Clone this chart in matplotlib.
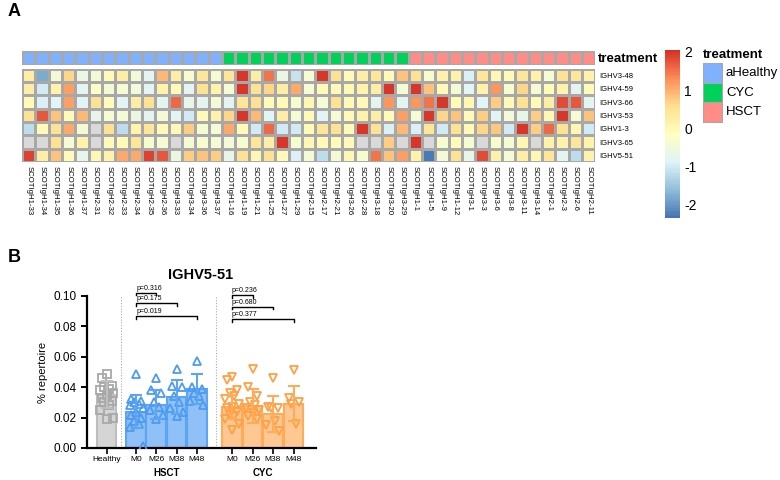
import numpy as np
import matplotlib
matplotlib.use("Agg")
import matplotlib.pyplot as plt
from matplotlib.colors import LinearSegmentedColormap, ListedColormap
from matplotlib.patches import Rectangle

plt.rcParams['font.family'] = ['Liberation Sans', 'DejaVu Sans']
plt.rcParams['axes.unicode_minus'] = False

# ---- panel A data ----
samples_healthy = ["SCOTIgH1-33", "SCOTIgH1-34", "SCOTIgH1-35", "SCOTIgH1-36", "SCOTIgH1-37",
                   "SCOTIgH2-31", "SCOTIgH2-32", "SCOTIgH2-33", "SCOTIgH2-34", "SCOTIgH2-35",
                   "SCOTIgH2-36", "SCOTIgH3-33", "SCOTIgH3-34", "SCOTIgH3-36", "SCOTIgH3-37"]
samples_cyc = ["SCOTIgH1-16", "SCOTIgH1-19", "SCOTIgH1-21", "SCOTIgH1-25", "SCOTIgH1-27",
               "SCOTIgH1-29", "SCOTIgH2-15", "SCOTIgH2-17", "SCOTIgH2-21", "SCOTIgH3-26",
               "SCOTIgH2-28", "SCOTIgH3-18", "SCOTIgH3-20", "SCOTIgH3-29"]
samples_hsct = ["SCOTIgH1-1", "SCOTIgH1-5", "SCOTIgH1-9", "SCOTIgH1-12", "SCOTIgH3-1",
                "SCOTIgH3-3", "SCOTIgH3-6", "SCOTIgH3-8", "SCOTIgH3-11", "SCOTIgH3-14",
                "SCOTIgH2-1", "SCOTIgH2-3", "SCOTIgH2-6", "SCOTIgH2-11"]
genes = ["IGHV3-48", "IGHV4-59", "IGHV3-66", "IGHV3-53", "IGHV1-3", "IGHV3-65", "IGHV5-51"]
nan = np.nan

z_ighv3_48 = [0.25, -1.8, -0.45, 0.65, -0.6, -0.45, -0.05, 0.25, -0.5, -0.8, 0.95,
              0.25, -0.35, 0.45, -0.35, 0.45, 2.0, 0.25, 1.5, -0.6, -1.1,
              -0.4, 2.0, 0.55, -0.05, 0.25, 0.45, -0.05, 0.85, 0.55, -0.35, 0.2,
              0.15, -0.9, 0.45, 0.0, -0.05, 0.45, 0.15, -0.4, 0.55, 0.45, 0.15]
z_ighv4_59 = [0.25, -1.0, 0.15, 1.15, -0.8, -0.2, -0.45, -0.4, -0.5, -0.8, 0.15,
              -0.05, -0.8, 0.55, 0.15, -0.4, 2.0, 0.55, 0.65, 0.25, 1.05,
              -0.4, -0.05, -0.05, 0.0, 0.15, 0.25, 2.0, -0.4, 2.0, 0.85, -0.05,
              -0.45, -0.85, 0.15, 1.25, -0.35, 0.65, -0.4, -0.05, 0.15, -0.8, -0.05]
z_ighv3_66 = [-0.05, -0.9, -0.85, 1.15, -0.85, 0.55, -0.1, -0.85, 0.25, 0.55, -0.8,
              1.6, -0.7, -0.8, -0.45, -0.8, 0.45, 0.55, -0.05, -0.05, -0.35,
              0.0, -0.4, 0.55, -0.05, -0.05, -0.8, 1.25, -0.8, 1.25, 1.5, 2.0,
              -0.05, 0.05, -0.85, 0.75, -0.05, 0.55, -0.05, 0.25, 1.8, 1.7, -0.8]
z_ighv3_53 = [0.55, 1.7, 0.85, -0.05, 0.95, -0.7, -0.4, -0.45, -0.6, -0.8, -0.45,
              -0.8, -1.0, -0.05, 0.15, 0.65, 2.0, 0.95, -0.85, 0.25, -0.4,
              -0.05, -0.85, -0.4, -0.05, 0.15, 0.25, -0.05, 1.15, -0.4, 2.0, 0.65,
              0.85, -0.05, 0.75, -0.8, -0.45, -0.7, 0.75, 0.05, 2.0, -0.4, 0.85]
z_ighv1_3 = [-1.2, -0.05, 0.55, 1.05, -0.45, nan, 0.55, -1.2, 0.15, 0.45, -0.05,
             0.0, 0.75, -0.35, -0.4, 1.05, -0.05, -1.0, 1.6, -1.0, -1.0,
             -0.05, 0.45, 0.55, -0.05, 2.0, 0.55, -0.9, 0.95, -0.9, 0.45, -1.0,
             0.55, -0.05, 0.65, 0.8, -1.0, 2.0, 0.75, 1.6, 0.55, 0.05, -1.0]
z_ighv3_65 = [nan, nan, 0.55, -0.4, 0.15, nan, -0.05, -0.05, 0.45, -0.35, -0.4,
              nan, -0.45, -0.35, -0.4, -0.45, -0.35, 0.45, 0.25, 2.0, -0.35,
              0.0, -0.05, -0.05, -0.05, nan, nan, 0.75, nan, 2.0, nan, -0.35,
              -0.05, -0.4, nan, -0.35, -0.4, 0.05, nan, 0.15, 0.15, 0.45, 0.15]
z_ighv5_51 = [1.9, 0.25, 0.85, -0.05, -0.7, 0.0, 0.15, 1.05, 1.05, 1.9, 1.7,
              -0.6, 0.75, 0.85, 0.75, -0.7, 0.55, 0.0, 0.55, -0.05, -0.9,
              -0.45, -1.2, -0.45, 0.05, -0.35, 1.5, 0.85, 1.15, 0.15, -2.3, -0.45,
              0.55, -0.7, 1.8, 0.2, -0.4, 0.25, 0.05, 0.45, -0.8, -1.2, 0.15]

treatments = ["aHealthy", "CYC", "HSCT"]
treatment_colors = ["#7FB1FF", "#00D15A", "#FF8C86"]

# ---- panel B data ----
groups = ["Healthy", "M0", "M26", "M38", "M48", "M0", "M26", "M38", "M48"]
bar_means = [0.035, 0.024, 0.0285, 0.0335, 0.039, 0.027, 0.0275, 0.0225, 0.029]
bar_sds = [0.009, 0.011, 0.0095, 0.011, 0.010, 0.008, 0.011, 0.012, 0.0115]
points = [
    [0.049, 0.046, 0.041, 0.040, 0.039, 0.038, 0.036, 0.035, 0.033, 0.031, 0.030, 0.028, 0.025, 0.020, 0.019],
    [0.049, 0.032, 0.031, 0.030, 0.029, 0.028, 0.026, 0.024, 0.022, 0.020, 0.018, 0.016, 0.014, 0.001],
    [0.046, 0.038, 0.036, 0.030, 0.027, 0.025, 0.022, 0.019],
    [0.052, 0.041, 0.040, 0.034, 0.030, 0.026, 0.024, 0.021],
    [0.057, 0.040, 0.039, 0.036, 0.034, 0.031, 0.028],
    [0.047, 0.045, 0.038, 0.036, 0.034, 0.032, 0.029, 0.027, 0.026, 0.024, 0.022, 0.021, 0.019, 0.016, 0.012],
    [0.052, 0.040, 0.034, 0.030, 0.028, 0.026, 0.025, 0.023, 0.021, 0.019],
    [0.046, 0.027, 0.026, 0.026, 0.018, 0.015, 0.011],
    [0.051, 0.033, 0.030, 0.029, 0.016],
]
# (first group index, second group index, p text)
comparisons = [(1, 2, "p=0.316"), (1, 3, "p=0.175"), (1, 4, "p=0.019"),
               (5, 6, "p=0.236"), (5, 7, "p=0.680"), (5, 8, "p=0.377")]

# ---- figure ----
W, H = 780, 480
fig = plt.figure(figsize=(W / 100, H / 100), dpi=100)


def box(x0, y0, x1, y1):
    return [x0 / W, 1 - y1 / H, (x1 - x0) / W, (y1 - y0) / H]


samples = samples_healthy + samples_cyc + samples_hsct
ncol = len(samples)
sample_group = [0] * len(samples_healthy) + [1] * len(samples_cyc) + [2] * len(samples_hsct)
Z = np.ma.masked_invalid(np.array([z_ighv3_48, z_ighv4_59, z_ighv3_66, z_ighv3_53,
                                   z_ighv1_3, z_ighv3_65, z_ighv5_51]))

hm_colors = ["#4575B4", "#91BFDB", "#E0F3F8", "#FFFFBF", "#FEE090", "#FC8D59", "#D73027"]
cmap = LinearSegmentedColormap.from_list("rdylbu", hm_colors, N=100)
cmap.set_bad("#D9D9D9")
grid_col = "#A8A8A8"

# annotation bar
ann = fig.add_axes(box(22, 51, 595.3, 64.5))
ann.pcolormesh(np.arange(ncol + 1), [0, 1], np.array([sample_group]),
               cmap=ListedColormap(treatment_colors), vmin=-0.5, vmax=2.5,
               edgecolors=grid_col, linewidth=0.8)
ann.set_xlim(0, ncol)
ann.set_ylim(1, 0)
ann.set_xticks([])
ann.set_yticks([])
for s in ann.spines.values():
    s.set_visible(False)
fig.text(598 / W, 1 - 58.5 / H, "treatment", fontsize=9.5, fontweight="bold", va="center")

# heatmap
hm = fig.add_axes(box(22, 68.7, 595.3, 162))
mesh = hm.pcolormesh(np.arange(ncol + 1), np.arange(len(genes) + 1), Z, cmap=cmap,
                     vmin=-2.35, vmax=2.05, edgecolors=grid_col, linewidth=0.8)
hm.set_xlim(0, ncol)
hm.set_ylim(len(genes), 0)
hm.yaxis.tick_right()
hm.set_yticks(np.arange(len(genes)) + 0.5, genes, fontsize=5.5)
hm.set_xticks(np.arange(ncol) + 0.5, samples, fontsize=5.6, rotation=270,
              ha="center", va="top")
hm.tick_params(length=0, pad=3)
for s in hm.spines.values():
    s.set_visible(False)

# colorbar
cax = fig.add_axes(box(665, 50, 680, 218))
cb = fig.colorbar(mesh, cax=cax, ticks=[2, 1, 0, -1, -2])
cb.outline.set_visible(False)
cax.tick_params(length=0, labelsize=10, pad=3)

# treatment legend
fig.text(703 / W, 1 - 55 / H, "treatment", fontsize=9.5, fontweight="bold", va="center")
for i, (name, col) in enumerate(zip(treatments, treatment_colors)):
    y0 = 63.3 + i * 19.5
    fig.patches.append(Rectangle((703 / W, 1 - (y0 + 19.5) / H), 18.5 / W, 19.5 / H,
                                 transform=fig.transFigure, facecolor=col,
                                 edgecolor=grid_col, linewidth=0.8))
    fig.text(726 / W, 1 - (y0 + 9.75) / H, name, fontsize=9.5, va="center")

fig.text(8 / W, 1 - 12 / H, "A", fontsize=13, fontweight="bold", va="center")
fig.text(8 / W, 1 - 258 / H, "B", fontsize=13, fontweight="bold", va="center")

# ---- panel B ----
ax = fig.add_axes(box(87, 296, 316, 448))
xpos = [0, 1.44, 2.42, 3.43, 4.42, 6.14, 7.15, 8.15, 9.17]
fills = ["#D5D5D5"] + ["#8FC0F7"] * 4 + ["#FFC893"] * 4
edges = ["#BEBEBE"] + ["#5DA4F3"] * 4 + ["#FFAC5A"] * 4
mcols = ["#A8A8A8"] + ["#4C9BF1"] * 4 + ["#FFA044"] * 4
markers = ["s"] + ["^"] * 4 + ["v"] * 4
pattern = [0.0, -0.24, 0.24, -0.12, 0.12, -0.32, 0.32]

ax.bar(xpos, bar_means, width=0.95, color=fills, edgecolor=edges, linewidth=1.5, zorder=2)
for i, vals in enumerate(points):
    offs = [pattern[k % len(pattern)] for k in range(len(vals))]
    ax.plot(np.array(xpos[i]) + np.array(offs), vals, linestyle="none", marker=markers[i],
            markersize=5.5, markerfacecolor="none", markeredgecolor=mcols[i],
            markeredgewidth=1.3, zorder=3)
    ax.errorbar(xpos[i], bar_means[i], yerr=bar_sds[i], fmt="none", ecolor=edges[i],
                elinewidth=1.5, capsize=4.5, capthick=1.5, zorder=4)

for xs in [0.69, 5.34]:
    ax.axvline(xs, color="#AAAAAA", linestyle=(0, (1, 1.5)), linewidth=0.8, zorder=1)

ax.set_xlim(-0.97, 10.26)
ax.set_ylim(0, 0.10)
ax.set_yticks(np.arange(0, 0.101, 0.02))
ax.yaxis.set_major_formatter(matplotlib.ticker.FormatStrFormatter("%.2f"))
ax.set_xticks(xpos, groups, fontsize=6)
ax.tick_params(axis="y", labelsize=8.5, length=4, width=1.4)
ax.tick_params(axis="x", length=4, width=1.2, pad=2)
ax.spines["top"].set_visible(False)
ax.spines["right"].set_visible(False)
ax.spines["left"].set_linewidth(1.6)
ax.spines["bottom"].set_linewidth(1.6)
ax.set_ylabel("% repertoire", fontsize=8)
fig.text(201 / W, 1 - 275 / H, "IGHV5-51", fontsize=10.5, fontweight="bold",
         ha="center", va="center")

ax.annotate("HSCT", xy=(np.mean(xpos[1:5]), -0.165), xycoords=("data", "axes fraction"),
            ha="center", va="center", fontsize=7, fontweight="bold")
ax.annotate("CYC", xy=(np.mean(xpos[5:9]), -0.165), xycoords=("data", "axes fraction"),
            ha="center", va="center", fontsize=7, fontweight="bold")

bracket_y = [0.1022, 0.0952, 0.0868, 0.1007, 0.093, 0.0847]
for (a, b, txt), yb in zip(comparisons, bracket_y):
    x1, x2 = xpos[a], xpos[b]
    ax.plot([x1, x1, x2, x2], [yb - 0.0018, yb, yb, yb - 0.0018], color="black",
            linewidth=1.0, clip_on=False)
    ax.text(x1, yb + 0.0007, txt, fontsize=5, ha="left", va="bottom", clip_on=False)

fig.savefig("out.png", dpi=100)
